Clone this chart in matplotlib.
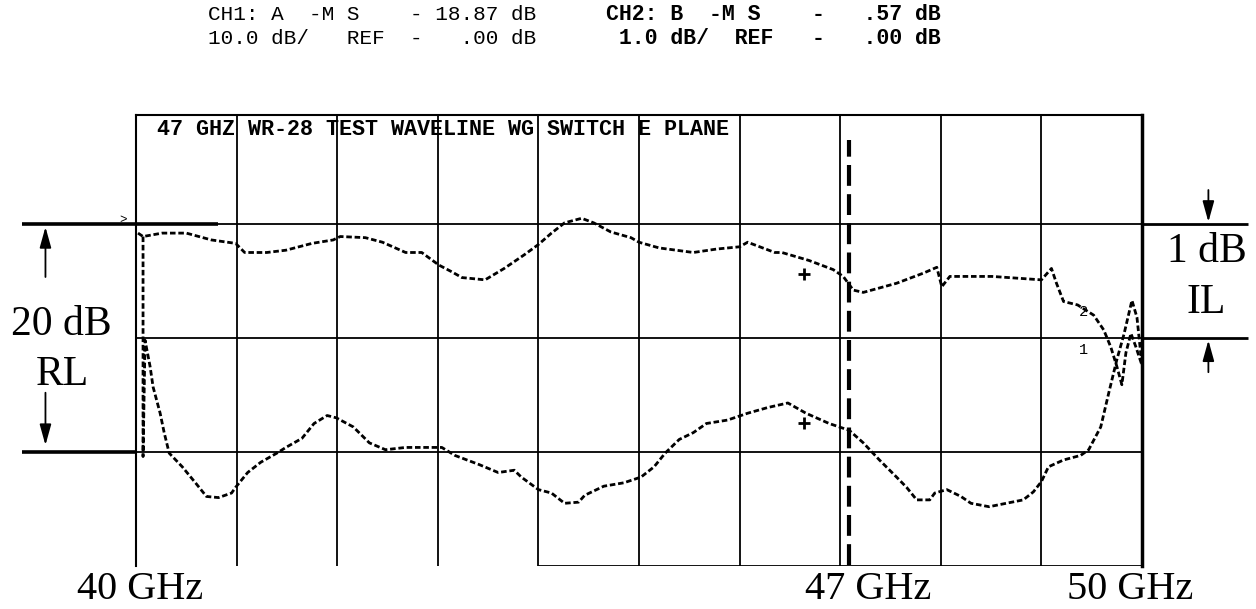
import matplotlib
matplotlib.use("Agg")
import matplotlib.pyplot as plt

# network analyzer sweep, 40-50 GHz
# CH2 : B-M S (insertion loss), 1 dB/div, ref 0 dB
il_ghz = [40.02, 40.07, 40.26, 40.50, 40.75, 40.99, 41.08, 41.30, 41.49, 41.75, 41.96,
          42.03, 42.28, 42.45, 42.68, 42.84, 43.01, 43.14, 43.24, 43.47, 43.66, 43.86, 44.00,
          44.13, 44.26, 44.43, 44.55, 44.72, 44.92, 45.00, 45.20, 45.54, 45.77, 46.00,
          46.08, 46.35, 46.42, 46.69, 46.93, 47.03, 47.13, 47.23, 47.56, 47.83, 47.96,
          48.01, 48.09, 48.51, 49.00, 49.10, 49.15, 49.22, 49.36, 49.52, 49.62, 49.69,
          49.75, 49.80, 49.84, 49.89, 49.94, 50.00]
il_db = [-0.08, -0.11, -0.08, -0.08, -0.14, -0.17, -0.25, -0.25, -0.23, -0.17, -0.14,
         -0.11, -0.12, -0.16, -0.25, -0.25, -0.36, -0.42, -0.47, -0.49, -0.39, -0.27, -0.18,
         -0.08, 0.01, 0.05, 0.01, -0.07, -0.12, -0.16, -0.21, -0.25, -0.22, -0.20,
         -0.16, -0.25, -0.25, -0.32, -0.40, -0.46, -0.58, -0.60, -0.52, -0.43, -0.38,
         -0.55, -0.46, -0.46, -0.49, -0.39, -0.52, -0.68, -0.71, -0.80, -0.93, -1.08,
         -1.25, -1.41, -1.13, -0.96, -1.08, -1.24]

# CH1 : A-M S (return loss), 10 dB/div, ref 0 dB
rl_ghz = [40.07, 40.07, 40.09, 40.14, 40.17, 40.24, 40.28, 40.33, 40.46, 40.60, 40.70,
          40.82, 40.95, 40.99, 41.11, 41.24, 41.40, 41.49, 41.65, 41.77, 41.90, 41.99,
          42.16, 42.32, 42.48, 42.68, 42.91, 43.04, 43.17, 43.41, 43.60, 43.76, 43.83,
          44.00, 44.13, 44.26, 44.40, 44.46, 44.65, 44.85, 45.02, 45.15, 45.26, 45.40,
          45.54, 45.67, 45.88, 46.08, 46.28, 46.48, 46.66, 46.89, 47.09, 47.23, 47.39,
          47.56, 47.66, 47.76, 47.89, 47.94, 48.06, 48.20, 48.30, 48.48, 48.65, 48.82,
          48.92, 49.00, 49.07, 49.22, 49.39, 49.47, 49.59, 49.67, 49.75, 49.82, 49.90,
          49.95, 50.00]
rl_db = [-1.1, -20.4, -10.2, -12.5, -14.3, -16.6, -18.3, -20.1, -21.3, -22.8, -23.9,
         -24.0, -23.6, -23.1, -21.8, -20.9, -20.1, -19.6, -18.8, -17.5, -16.8, -17.0,
         -17.8, -19.2, -19.8, -19.6, -19.6, -19.6, -20.3, -21.1, -21.8, -21.6, -22.2,
         -23.3, -23.6, -24.5, -24.4, -23.8, -23.0, -22.7, -22.2, -21.3, -20.1, -18.9,
         -18.3, -17.5, -17.2, -16.6, -16.1, -15.7, -16.6, -17.5, -18.1, -19.2, -20.7,
         -22.2, -23.1, -24.2, -24.2, -23.6, -23.3, -23.9, -24.5, -24.8, -24.5, -24.2,
         -23.5, -22.6, -21.3, -20.7, -20.3, -19.8, -17.8, -14.8, -11.9, -9.7, -6.7,
         -8.2, -12.4]

marker_ghz = 46.64
marker_il = -0.44
marker_rl = -17.5
cursor_ghz = 47.09

grid_ghz = list(range(40, 51))
grid_db = [0, -10, -20]

freq_labels = ["40 GHz", "47 GHz", "50 GHz"]
freq_label_pos = [40.04, 47.28, 49.88]

title = "47 GHZ WR-28 TEST WAVELINE WG SWITCH E PLANE"
ch1_hdr = ["CH1: A  -M S    - 18.87 dB", "10.0 dB/   REF  -   .00 dB"]
ch2_hdr = ["CH2: B  -M S    -   .57 dB", " 1.0 dB/  REF   -   .00 dB"]

serif = "Liberation Serif"
mono = "Liberation Mono"

fig = plt.figure(figsize=(12.56, 6.09), dpi=100)
ax = fig.add_axes([136 / 1256, 1 - 566 / 609, (1142 - 136) / 1256, (566 - 115) / 609])
ax.set_xlim(40, 50)
ax.set_ylim(-30, 9.56)
ax2 = ax.twinx()
ax2.set_ylim(-3.0, 0.956)
ax2.axis("off")

ax.set_xticks(grid_ghz)
ax.set_yticks(grid_db)
ax.grid(True, color="black", lw=1.3)
ax.tick_params(length=0, labelbottom=False, labelleft=False)
for side in ["left", "top"]:
    ax.spines[side].set_linewidth(1.5)
ax.spines["right"].set_linewidth(2.5)
ax.spines["bottom"].set_visible(False)
ax.hlines(-30, 44, 50, color="black", lw=1.3)

# reference lines that run past the grid
ax.hlines(0, 38.87, 40.82, color="black", lw=2.6, clip_on=False)
ax.hlines(0, 50, 51.05, color="black", lw=2.0, clip_on=False)
ax.hlines(-20, 38.87, 40, color="black", lw=2.6, clip_on=False)
ax.hlines(-10, 50, 51.05, color="black", lw=2.0, clip_on=False)
ax.text(39.87, 0.35, ">", fontsize=9, family=mono, ha="center", va="center")

# traces
ax.plot(rl_ghz, rl_db, color="black", lw=2.0, ls=(0, (2, 1)))
ax2.plot(il_ghz, il_db, color="black", lw=2.0, ls=(0, (2, 1)))
ax.plot([marker_ghz], [marker_rl], marker="+", ms=9, mew=2, color="black")
ax2.plot([marker_ghz], [marker_il], marker="+", ms=9, mew=2, color="black")
ax.vlines(cursor_ghz, -29.9, 7.4, color="black", lw=3, linestyles=(0, (5, 2)))
ax.text(49.42, -7.7, "2", fontsize=11, family=mono, ha="center", va="center")
ax.text(49.42, -11.05, "1", fontsize=11, family=mono, ha="center", va="center")

ax.text(40.21, 8.33, title, fontsize=15.7, family=mono, weight="bold", va="center")

# 20 dB RL / 1 dB IL annotations
arrow = dict(arrowstyle="-|>,head_width=0.25,head_length=0.9", color="black", lw=1.3,
             mutation_scale=14, shrinkA=0, shrinkB=0)
ax.annotate("", xy=(39.10, -0.26), xytext=(39.10, -4.65), arrowprops=arrow, annotation_clip=False)
ax.annotate("", xy=(39.10, -19.4), xytext=(39.10, -14.8), arrowprops=arrow, annotation_clip=False)
ax.annotate("", xy=(50.66, 0.18), xytext=(50.66, 2.98), arrowprops=arrow, annotation_clip=False)
ax.annotate("", xy=(50.66, -10.2), xytext=(50.66, -13.0), arrowprops=arrow, annotation_clip=False)
ax.text(39.26, -9.74, "20 dB", fontsize=30, family=serif, ha="center", va="baseline")
ax.text(39.27, -14.1, "RL", fontsize=30, family=serif, ha="center", va="baseline")
ax.text(50.64, -3.33, "1 dB", fontsize=30, family=serif, ha="center", va="baseline")
ax.text(50.64, -7.8, "IL", fontsize=30, family=serif, ha="center", va="baseline")

for lab, pos in zip(freq_labels, freq_label_pos):
    ax.text(pos, -32.9, lab, fontsize=29, family=serif, ha="center", va="baseline")

# analyzer header
fig.text(208 / 1256, 1 - 14 / 609, ch1_hdr[0], fontsize=15.1, family=mono, va="center")
fig.text(208 / 1256, 1 - 38 / 609, ch1_hdr[1], fontsize=15.1, family=mono, va="center")
fig.text(606 / 1256, 1 - 14 / 609, ch2_hdr[0], fontsize=15.5, family=mono, weight="bold", va="center")
fig.text(606 / 1256, 1 - 38 / 609, ch2_hdr[1], fontsize=15.5, family=mono, weight="bold", va="center")

fig.savefig("out.png", dpi=100)
